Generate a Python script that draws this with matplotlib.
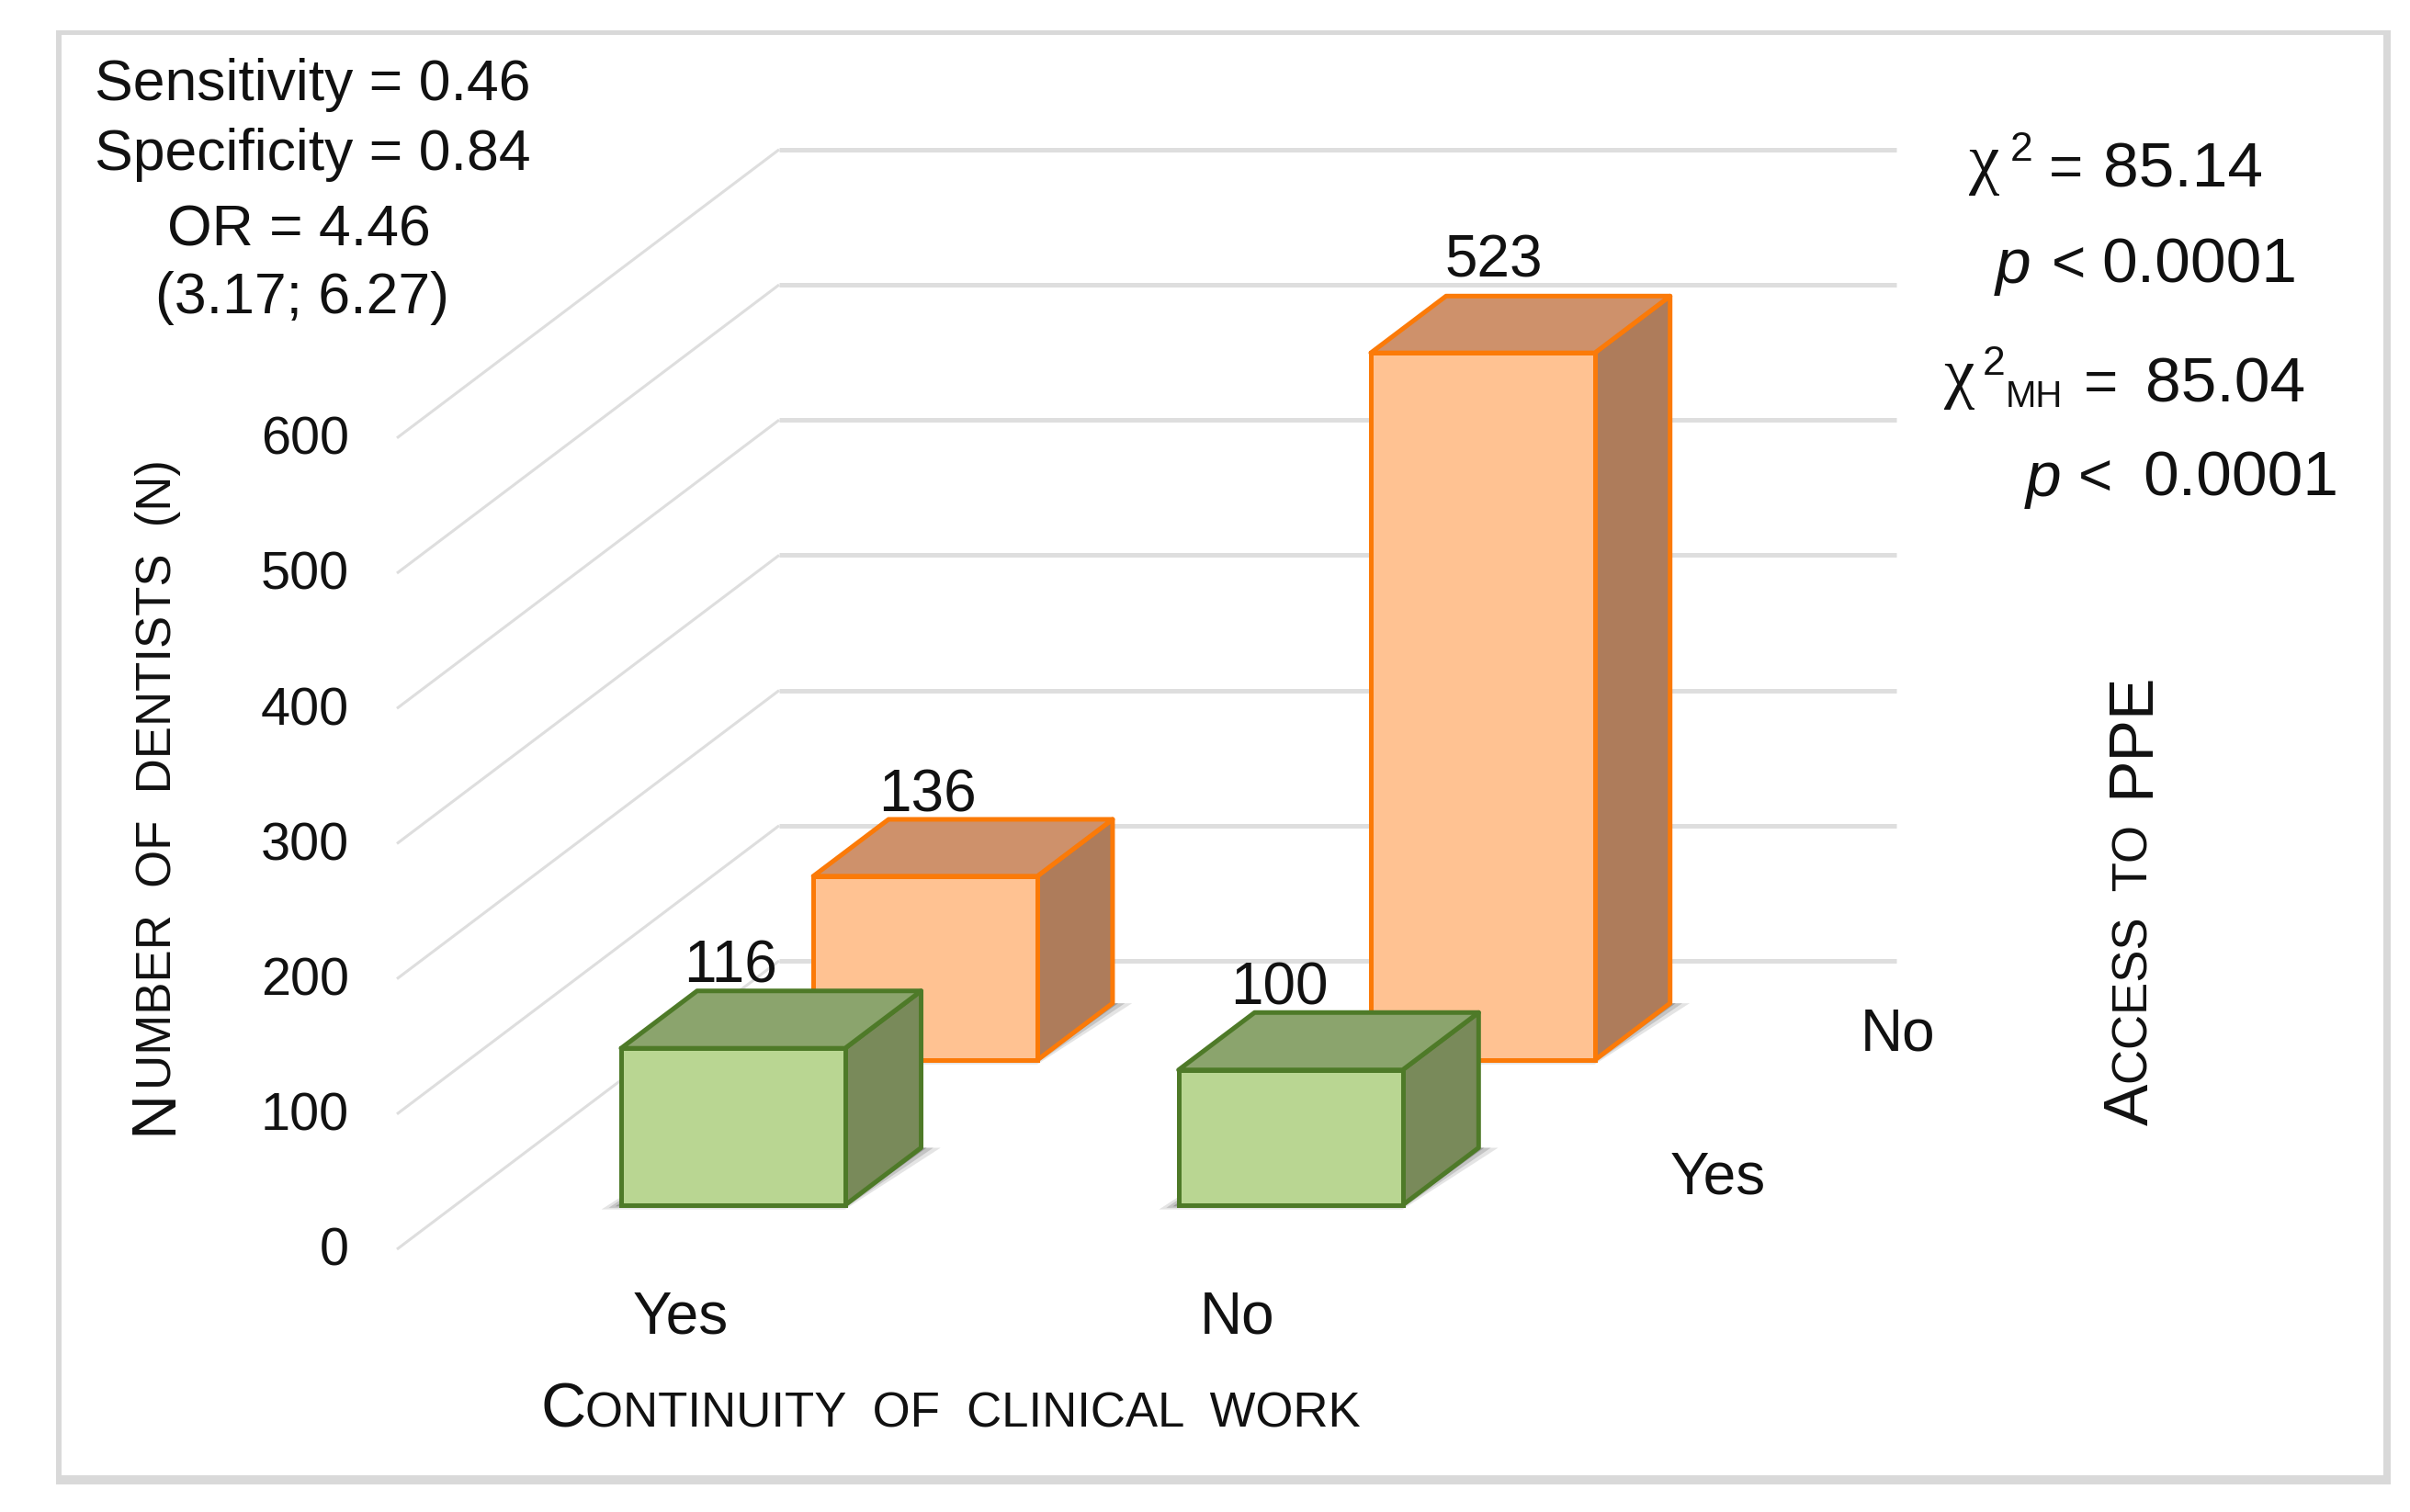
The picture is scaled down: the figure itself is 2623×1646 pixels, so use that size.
import matplotlib
matplotlib.use('Agg')
import matplotlib.pyplot as plt
from matplotlib.patches import Polygon, Rectangle

plt.rcParams['font.family'] = ['Liberation Sans', 'DejaVu Sans']

W, H = 2623, 1646

# data
work_labels = ['Yes', 'No']
ppe_labels = ['Yes', 'No']
access_yes = [116, 100]
access_no = [136, 523]
y_ticks = [0, 100, 200, 300, 400, 500, 600]

# colours: front, top, side, edge
green = ('#B9D692', '#8BA46D', '#798A5A', '#4E7A28')
orange = ('#FFC292', '#CE916B', '#AE7C5B', '#FB7A08')
grid_col = '#DEDEDE'
frame_col = '#D9D9D9'

# geometry of the fake 3d box, in data units
px_per_cat = 608
px_per_val = 1.472
origin_x, origin_y = 432, 1360
depth_x = 416 / px_per_cat
depth_v = 314 / px_per_val

fig = plt.figure(figsize=(W / 100, H / 100), dpi=100, facecolor='white')
ax = fig.add_axes([0, 0, 1, 1])
ax.set_xlim(-origin_x / px_per_cat, (W - origin_x) / px_per_cat)
ax.set_ylim((origin_y - H) / px_per_val, origin_y / px_per_val)
ax.axis('off')


def proj(x, d, v):
    return (x + depth_x * d, v + depth_v * d)


def fx(px):
    return px / W


def fy(py):
    return 1 - py / H


def label(px, py, s, size=46, ha='left', **kw):
    return fig.text(fx(px), fy(py), s, fontsize=size, ha=ha, va='baseline', color='#111111', **kw)


def runs(px, py, parts, rotation=0):
    # small caps: pieces of different size set one after the other
    renderer = fig.canvas.get_renderer()
    pos = 0
    for s, size, gap in parts:
        t = fig.text(0, 0, s, fontsize=size)
        w = t.get_window_extent(renderer).width
        t.remove()
        if rotation == 90:
            fig.text(fx(px), fy(py - pos), s, fontsize=size, rotation=90, color='#111111',
                     rotation_mode='anchor', ha='left', va='baseline')
        else:
            fig.text(fx(px + pos), fy(py), s, fontsize=size, color='#111111', ha='left', va='baseline')
        pos += w + gap


def row_z(d0):
    return 5 - d0 * 3


def bar(xc, d0, d1, val, cols, width=0.401):
    front, top, side, edge = cols
    x0, x1 = xc - width / 2, xc + width / 2
    # soft shadow on the floor
    for grow, alpha in [(0.035, 0.14), (0.022, 0.2), (0.01, 0.3)]:
        foot = [proj(x0 - grow, d0, -grow * 90), proj(x1, d0, -grow * 90),
                proj(x1 + grow, d1, 0), proj(x0, d1, 0)]
        ax.add_patch(Polygon(foot, closed=True, fc='#444444', ec='none', alpha=alpha, zorder=row_z(d0)))
    lw = 3.6
    ax.add_patch(Polygon([proj(x1, d0, 0), proj(x1, d1, 0), proj(x1, d1, val), proj(x1, d0, val)],
                         fc=side, ec=edge, lw=lw, joinstyle='round', zorder=row_z(d0) + 0.1))
    ax.add_patch(Polygon([proj(x0, d0, val), proj(x1, d0, val), proj(x1, d1, val), proj(x0, d1, val)],
                         fc=top, ec=edge, lw=lw, joinstyle='round', zorder=row_z(d0) + 0.1))
    ax.add_patch(Rectangle(proj(x0, d0, 0), width, val, fc=front, ec=edge, lw=lw, zorder=row_z(d0) + 0.2))


# gridlines
for v in y_ticks:
    a, b, c = proj(0, 0, v), proj(0, 1, v), proj(2, 1, v)
    ax.plot([a[0], b[0]], [a[1], b[1]], color=grid_col, lw=2.2, zorder=1, solid_capstyle='butt')
    ax.plot([b[0], c[0]], [b[1], c[1]], color=grid_col, lw=3.6, zorder=1, solid_capstyle='butt')
    label(380, origin_y + 18 - v * px_per_val, str(v), size=41.5, ha='right')

# bars, back row first
centres = [0.497, 1.495]
for i, xc in enumerate(centres):
    bar(xc, 0.656, 0.853, access_no[i], orange)
    bar(xc, 0.153, 0.352, access_yes[i], green)

# frame, the bands are not equally thick
for x0, y0, x1, y1 in [(61, 33, 2602, 38), (61, 33, 67, 1616), (2594, 33, 2602, 1616), (61, 1606, 2602, 1616)]:
    fig.add_artist(Rectangle((fx(x0), fy(y1)), (x1 - x0) / W, (y1 - y0) / H, transform=fig.transFigure,
                             fc=frame_col, ec='none', zorder=10))

# category labels
label(741, 1452, work_labels[0], ha='center')
label(1347, 1452, work_labels[1], ha='center')
label(1870, 1300, ppe_labels[0], ha='center')
label(2066, 1144, ppe_labels[1], ha='center')

# bar values
label(795, 1069, str(access_yes[0]), ha='center')
label(1392, 1094, str(access_yes[1]), ha='center')
label(1009, 883, str(access_no[0]), ha='center')
label(1626, 302, str(access_no[1]), ha='center')

# axis titles
runs(588, 1553, [('C', 49, 0), ('ONTINUITY  OF  CLINICAL  WORK', 38, 0)])
runs(186, 1235, [('N', 49, 0), ('UMBER  OF  DENTISTS  (N)', 38, 0)], rotation=90)
runs(2338, 1225, [('A', 49, 0), ('CCESS  TO', 38, 30), ('PPE', 49, 0)], rotation=90)

# test statistics
label(103, 109, 'Sensitivity = 0.46', size=45)
label(103, 185, 'Specificity = 0.84', size=45)
label(325, 268, 'OR = 4.46', size=45, ha='center')
label(329, 341, '(3.17; 6.27)', size=45, ha='center')

label(2143, 197, '\u03c7', size=54, family='Liberation Serif')
label(2188, 175, '2', size=32)
label(2230, 203, '=', size=46)
label(2289, 203, '85.14', size=50)
label(2172, 308, 'p', size=50, style='italic')
label(2233, 308, '<', size=46)
label(2287, 308, '0.0001', size=50)

label(2116, 430, '\u03c7', size=54, family='Liberation Serif')
label(2158, 408, '2', size=32)
label(2183, 443, 'MH', size=29)
label(2268, 437, '=', size=46)
label(2335, 437, '85.04', size=50)
label(2205, 540, 'p', size=50, style='italic')
label(2262, 540, '<', size=46)
label(2332, 540, '0.0001', size=50)

fig.savefig('out.png', dpi=100)
